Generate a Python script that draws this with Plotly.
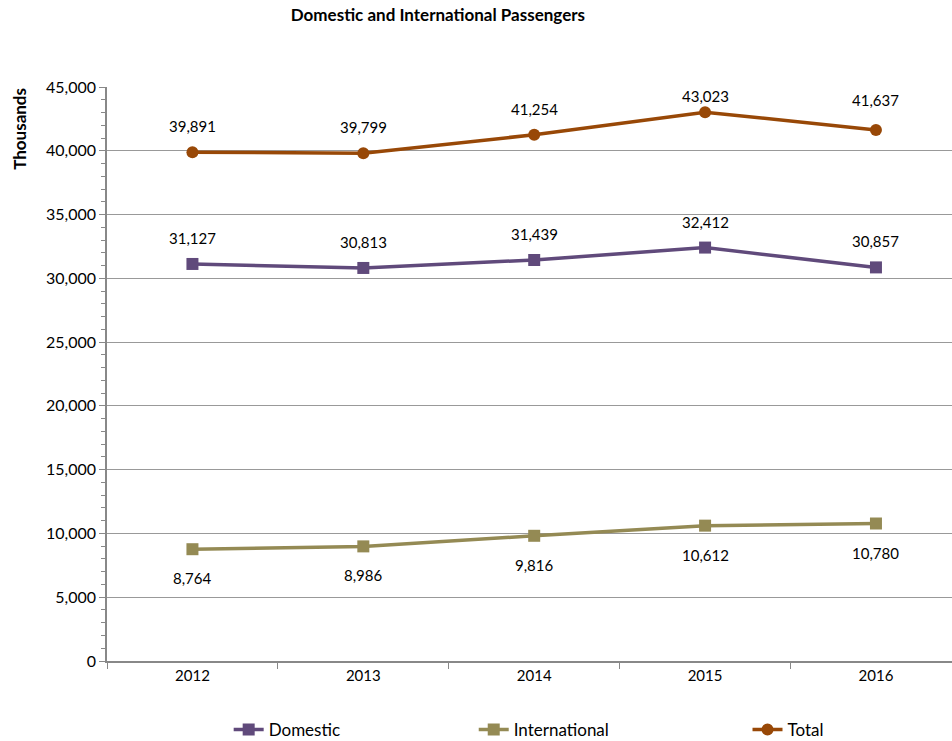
import plotly.graph_objects as go

years = ["2012", "2013", "2014", "2015", "2016"]
domestic = [31127, 30813, 31439, 32412, 30857]
international = [8764, 8986, 9816, 10612, 10780]
total = [39891, 39799, 41254, 43023, 41637]

FONT = "Lato, 'Liberation Sans', sans-serif"
C_DOM = "#604A7B"
C_INT = "#948A54"
C_TOT = "#984807"

# label offsets (pixels) relative to each point
dom_shift = [26, 26, 26, 26, 26]
int_shift = [-29, -29, -29, -29, -29]
tot_shift = [26, 26, 26, 16, 30]

fig = go.Figure()
series = [
    ("Domestic", domestic, C_DOM, "square", dom_shift, "legend", 0.144),
    ("International", international, C_INT, "square", int_shift, "legend2", 0.434),
    ("Total", total, C_TOT, "circle", tot_shift, "legend3", 0.758),
]
legend_cfg = {}
for name, vals, col, sym, shifts, lg, lx in series:
    fig.add_trace(go.Scatter(
        x=years, y=vals, name=name, mode="lines+markers",
        line=dict(color=col, width=3.5),
        marker=dict(symbol=sym, size=12, color=col),
        legend=lg,
    ))
    for i, (v, s) in enumerate(zip(vals, shifts)):
        fig.add_annotation(x=i, y=v, text=f"{v:,}", showarrow=False,
                           yshift=s, font=dict(size=15, color="#000000", family=FONT))
    legend_cfg[lg] = dict(x=lx, xanchor="left", y=-0.120, yanchor="middle",
                          font=dict(size=17), bgcolor="rgba(0,0,0,0)")

fig.update_layout(
    width=952, height=741,
    margin=dict(l=107, r=0, t=87, b=80, autoexpand=False),
    paper_bgcolor="white", plot_bgcolor="white",
    font=dict(family=FONT, size=15, color="#000000"),
    title=dict(text="<b>Domestic and International Passengers</b>", x=0.46, xanchor="center",
               y=0.988, yanchor="top", font=dict(size=17, family=FONT)),
    showlegend=True,
    **legend_cfg,
)
fig.update_xaxes(
    type="category", showgrid=False, showline=True, linecolor="#888888", linewidth=1.5,
    ticks="outside", tickson="boundaries", ticklen=6, tickcolor="#888888",
    tickfont=dict(size=15), range=[-0.5, 4.445], automargin=False,
)
fig.update_yaxes(
    range=[0, 45000], dtick=5000, tickformat=",", showgrid=True, gridcolor="#999999", gridwidth=1.2,
    showline=True, linecolor="#888888", linewidth=1.5, ticks="outside", ticklen=6,
    tickcolor="#888888", tickfont=dict(size=16), zeroline=False, automargin=False,
    minor=dict(dtick=1000, ticks="outside", ticklen=4, tickcolor="#888888", showgrid=False),
)
fig.add_annotation(text="<b>Thousands</b>", xref="paper", yref="paper", x=-0.103, y=1.002,
                   xanchor="center", yanchor="top", textangle=-90, showarrow=False,
                   font=dict(size=17, family=FONT))

post = (
    "document.body.style.margin='0px';"
    "var gd=document.getElementById('{plot_id}');"
    "gd.style.width='952px';gd.style.height='741px';"
    "Plotly.relayout(gd,{width:952,height:741});"
)
fig.write_html("out.html", post_script=post, config={"displayModeBar": False})
